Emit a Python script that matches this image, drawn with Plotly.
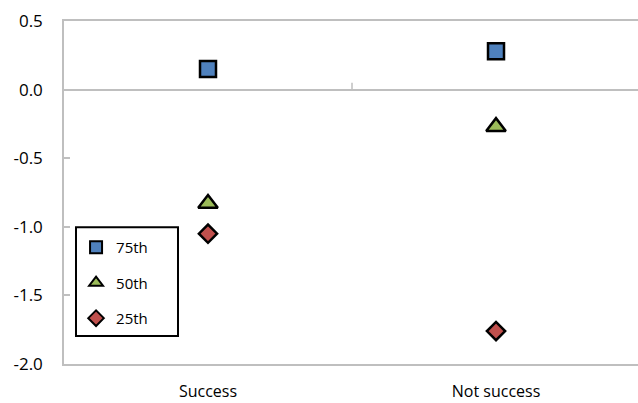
import plotly.graph_objects as go

categories = ["Success", "Not success"]
series_names = ["75th", "50th", "25th"]
p75 = [0.15, 0.28]
p50 = [-0.83, -0.27]
p25 = [-1.05, -1.76]
y_ticks = [-2.0, -1.5, -1.0, -0.5, 0.0, 0.5]
y_tick_labels = ["-2.0", "-1.5", "-1.0", "-0.5", "0.0", "0.5"]

colors = ["#4F81BD", "#9BBB59", "#C0504D"]
symbols = ["square", "triangle-up", "diamond"]
sizes = [16, 17, 14]

fig = go.Figure()
for i, (name, vals) in enumerate(zip(series_names, [p75, p50, p25])):
    fig.add_trace(go.Scatter(
        x=[0, 1], y=vals, mode="markers", name=name, legendgroup=name,
        marker=dict(symbol=symbols[i], color=colors[i], size=sizes[i],
                    line=dict(color="black", width=2.5)),
    ))

grid = "#BFBFBF"
font = "Open Sans, Noto Sans, DejaVu Sans"
fig.update_layout(
    width=638, height=403,
    margin=dict(l=64, r=0, t=21, b=39, autoexpand=False),
    paper_bgcolor="white", plot_bgcolor="white",
    font=dict(family=font, size=16, color="black"),
    showlegend=True,
    legend=dict(x=0.021, y=0.388, xanchor="left", yanchor="top",
                borderwidth=0, bgcolor="rgba(0,0,0,0)",
                font=dict(size=15), itemsizing="constant",
                tracegroupgap=13, traceorder="grouped"),
    xaxis=dict(tickvals=[0, 1], ticktext=categories, range=[-0.5, 1.493],
               showline=True, linecolor=grid, linewidth=1.5, mirror=True,
               showgrid=False, zeroline=False, ticks="", ticklabelstandoff=12,
               automargin=False, tickfont=dict(size=16)),
    yaxis=dict(range=[-2.0, 0.5], tickvals=y_ticks, ticktext=y_tick_labels,
               showline=True, linecolor=grid, linewidth=1.5,
               ticks="inside", ticklen=6, tickcolor=grid, tickwidth=1.5,
               showgrid=False, zeroline=True, zerolinecolor=grid, zerolinewidth=1.5,
               ticklabelstandoff=16, automargin=False, tickfont=dict(size=17)),
)
# legend frame
fig.add_shape(type="rect", xref="paper", yref="paper",
              x0=0.0209, x1=0.1986, y0=0.0816, y1=0.399,
              line=dict(color="black", width=2), fillcolor="white", layer="above")
# category divider tick on the zero line
fig.add_shape(type="line", x0=0.5, x1=0.5, y0=0, y1=0.05, xref="x", yref="y",
              line=dict(color=grid, width=1.5))

fig.write_html("out.html", config={"displayModeBar": False},
               post_script="document.body.style.margin='0px';")
